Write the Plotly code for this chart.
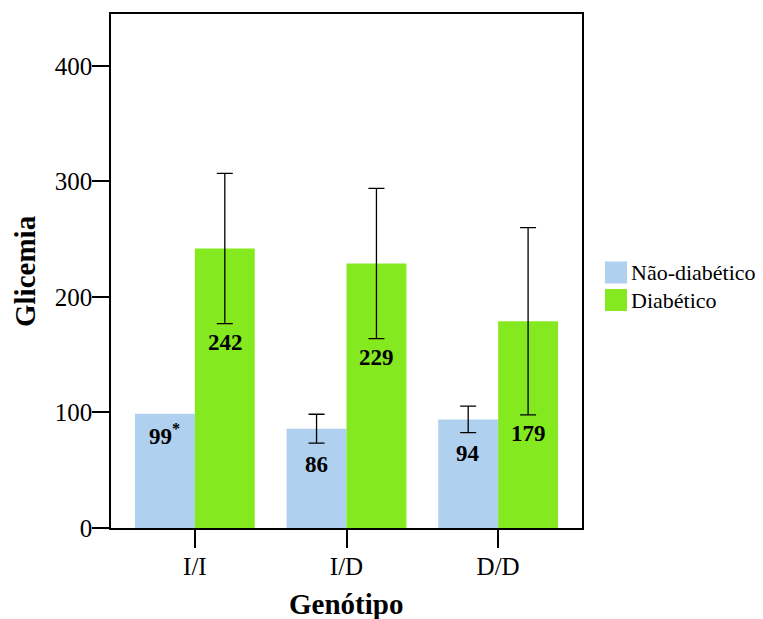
import plotly.graph_objects as go

categories = ["I/I", "I/D", "D/D"]
nao_diab = [99, 86, 94]
nao_diab_err = [None, 12.5, 11.5]
diab = [242, 229, 179]
diab_err = [65, 65, 81]
nao_labels = ["99<sup>*</sup>", "86", "94"]
diab_labels = ["242", "229", "179"]
y_ticks = [0, 100, 200, 300, 400]

BLUE = "#AFD0EE"
GREEN = "#84E91F"
FONT = "Liberation Serif"

fig = go.Figure()
# Não-diabético: bars without a reported error and bars with one share one offset group
no_err_idx = [i for i, e in enumerate(nao_diab_err) if e is None]
err_idx = [i for i, e in enumerate(nao_diab_err) if e is not None]
fig.add_trace(go.Bar(
    x=[categories[i] for i in no_err_idx], y=[nao_diab[i] for i in no_err_idx],
    name="Não-diabético", offsetgroup="nd", marker=dict(color=BLUE, line=dict(width=0)),
    showlegend=False,
))
fig.add_trace(go.Bar(
    x=[categories[i] for i in err_idx], y=[nao_diab[i] for i in err_idx],
    name="Não-diabético", offsetgroup="nd", marker=dict(color=BLUE, line=dict(width=0)),
    error_y=dict(type="data", array=[nao_diab_err[i] for i in err_idx], color="black", thickness=1.3, width=8),
    showlegend=False,
))
fig.add_trace(go.Bar(
    x=categories, y=diab, name="Diabético", offsetgroup="d", marker=dict(color=GREEN, line=dict(width=0)),
    error_y=dict(type="data", array=diab_err, color="black", thickness=1.3, width=8),
    showlegend=False,
))

# value labels inside bars, placed just below the error bar low end
annotations = []
for i, c in enumerate(categories):
    lo_b = nao_diab[i] - (nao_diab_err[i] or 0)
    annotations.append(dict(x=i - 0.2, y=lo_b, xref="x", yref="y", text="<b>" + nao_labels[i] + "</b>",
                            showarrow=False, yanchor="middle", yshift=-21,
                            font=dict(family=FONT, size=23, color="black")))
    lo_g = diab[i] - diab_err[i]
    annotations.append(dict(x=i + 0.2, y=lo_g, xref="x", yref="y", text="<b>" + diab_labels[i] + "</b>",
                            showarrow=False, yanchor="middle", yshift=-19,
                            font=dict(family=FONT, size=23, color="black")))

# manual legend
W, H = 471.0, 514.0
def px(x):
    return (x - 111) / W
def py(y):
    return (528 - y) / H

shapes = []
legend_items = [("Não-diabético", BLUE, 261.5), ("Diabético", GREEN, 289)]
for name, col, top in legend_items:
    shapes.append(dict(type="rect", xref="paper", yref="paper",
                       x0=px(605), x1=px(627), y0=py(top + 22), y1=py(top),
                       fillcolor=col, line=dict(width=0)))
    annotations.append(dict(x=px(629), y=py(top + 11), xref="paper", yref="paper", text=name,
                            showarrow=False, xanchor="left", yanchor="middle",
                            font=dict(family=FONT, size=22, color="black")))

# axis titles
annotations.append(dict(x=px(25), y=py(271), xref="paper", yref="paper", text="<b>Glicemia</b>",
                        textangle=-90, showarrow=False, xanchor="center", yanchor="middle",
                        font=dict(family=FONT, size=29, color="black")))
annotations.append(dict(x=px(346), y=py(604), xref="paper", yref="paper", text="<b>Genótipo</b>",
                        showarrow=False, xanchor="center", yanchor="middle",
                        font=dict(family=FONT, size=29, color="black")))

fig.update_layout(
    width=763, height=619,
    margin=dict(l=111, r=181, t=14, b=91),
    paper_bgcolor="white", plot_bgcolor="white",
    barmode="group", bargap=0.21, bargroupgap=0,
    font=dict(family=FONT, color="black"),
    annotations=annotations, shapes=shapes,
    xaxis=dict(range=[-0.553, 2.553], showline=True, linecolor="black", linewidth=1.5, mirror=True,
               ticks="outside", ticklen=18, tickwidth=1.5, tickcolor="black", ticklabelstandoff=-3,
               tickfont=dict(family=FONT, size=25, color="black"), showgrid=False, zeroline=False),
    yaxis=dict(range=[0, 445], tickvals=y_ticks, showline=True, linecolor="black", linewidth=1.5, mirror=True,
               ticks="outside", ticklen=17, tickwidth=1.5, tickcolor="black", ticklabelstandoff=-5,
               tickfont=dict(family=FONT, size=25, color="black"), showgrid=False, zeroline=False),
)

fig.write_html("out.html")
